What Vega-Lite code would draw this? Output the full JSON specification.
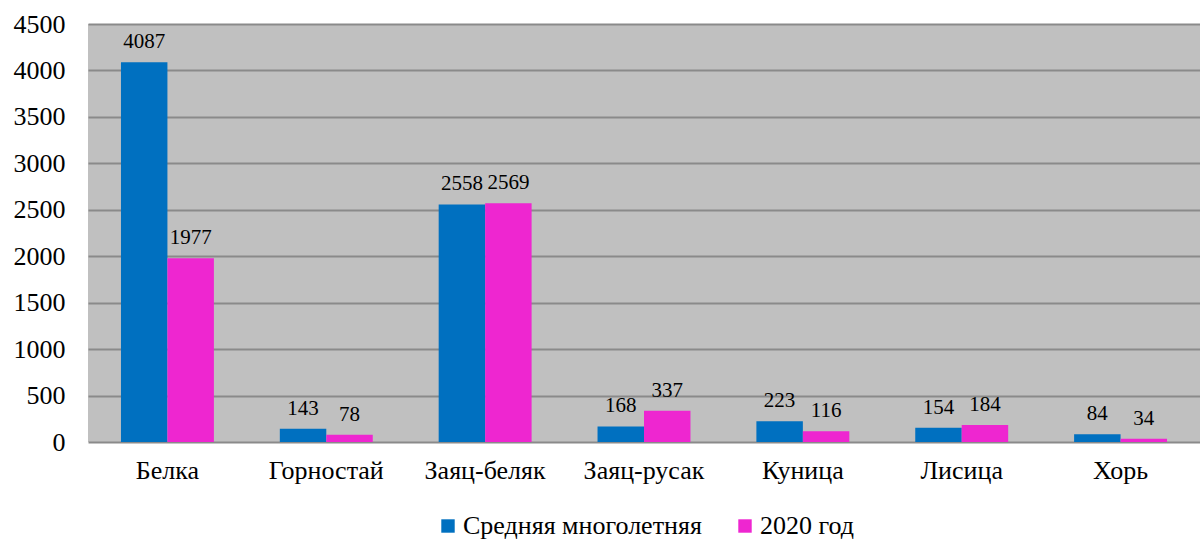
{
  "$schema": "https://vega.github.io/schema/vega-lite/v6.json",
  "autosize": {"type": "fit", "contains": "padding"},
  "width": 1200,
  "height": 540,
  "padding": {"left": 13, "top": 11, "right": 0, "bottom": 1},
  "background": "#ffffff",
  "data": {
    "values": [
      {"animal": "Белка", "series": "Средняя многолетняя", "value": 4087},
      {"animal": "Белка", "series": "2020 год", "value": 1977},
      {"animal": "Горностай", "series": "Средняя многолетняя", "value": 143},
      {"animal": "Горностай", "series": "2020 год", "value": 78},
      {"animal": "Заяц-беляк", "series": "Средняя многолетняя", "value": 2558},
      {"animal": "Заяц-беляк", "series": "2020 год", "value": 2569},
      {"animal": "Заяц-русак", "series": "Средняя многолетняя", "value": 168},
      {"animal": "Заяц-русак", "series": "2020 год", "value": 337},
      {"animal": "Куница", "series": "Средняя многолетняя", "value": 223},
      {"animal": "Куница", "series": "2020 год", "value": 116},
      {"animal": "Лисица", "series": "Средняя многолетняя", "value": 154},
      {"animal": "Лисица", "series": "2020 год", "value": 184},
      {"animal": "Хорь", "series": "Средняя многолетняя", "value": 84},
      {"animal": "Хорь", "series": "2020 год", "value": 34}
    ]
  },
  "config": {
    "view": {"fill": "#c0c0c0", "stroke": null},
    "font": "Liberation Serif",
    "axis": {"labelFont": "Liberation Serif", "labelColor": "#000000"},
    "legend": {"labelFont": "Liberation Serif", "layout": {"bottom": {"anchor": "middle"}}},
    "text": {"font": "Liberation Serif"}
  },
  "encoding": {
    "x": {
      "field": "animal",
      "type": "nominal",
      "sort": null,
      "scale": {"paddingInner": 0.415, "paddingOuter": 0.2075},
      "axis": {
        "title": null,
        "labelAngle": 0,
        "labelFont": "Liberation Serif",
        "labelFontSize": 26,
        "labelPadding": 15,
        "ticks": false,
        "domain": false,
        "grid": false
      }
    },
    "xOffset": {
      "field": "series",
      "type": "nominal",
      "sort": ["Средняя многолетняя", "2020 год"]
    },
    "y": {
      "field": "value",
      "type": "quantitative",
      "scale": {"domain": [0, 4500], "nice": false},
      "axis": {
        "title": null,
        "values": [0, 500, 1000, 1500, 2000, 2500, 3000, 3500, 4000, 4500],
        "format": "d",
        "labelFont": "Liberation Serif",
        "labelFontSize": 26,
        "labelPadding": 23,
        "ticks": false,
        "domain": false,
        "grid": true,
        "gridColor": "#8a8a8a",
        "gridWidth": 2
      }
    }
  },
  "layer": [
    {
      "mark": {"type": "bar"},
      "encoding": {
        "color": {
          "field": "series",
          "type": "nominal",
          "sort": ["Средняя многолетняя", "2020 год"],
          "scale": {"domain": ["Средняя многолетняя", "2020 год"], "range": ["#0070c0", "#ee26d0"]},
          "legend": {
            "title": null,
            "orient": "bottom",
            "direction": "horizontal",
            "symbolType": "square",
            "symbolSize": 180,
            "symbolStrokeWidth": 0,
            "labelFont": "Liberation Serif",
            "labelFontSize": 26,
            "labelColor": "#000000",
            "labelLimit": 0,
            "labelOffset": 2,
            "columnPadding": 30,
            "offset": 30
          }
        }
      }
    },
    {
      "mark": {"type": "text", "baseline": "alphabetic", "dy": -14, "fontSize": 21, "color": "#000000", "font": "Liberation Serif"},
      "encoding": {"text": {"field": "value", "type": "quantitative"}}
    }
  ]
}
